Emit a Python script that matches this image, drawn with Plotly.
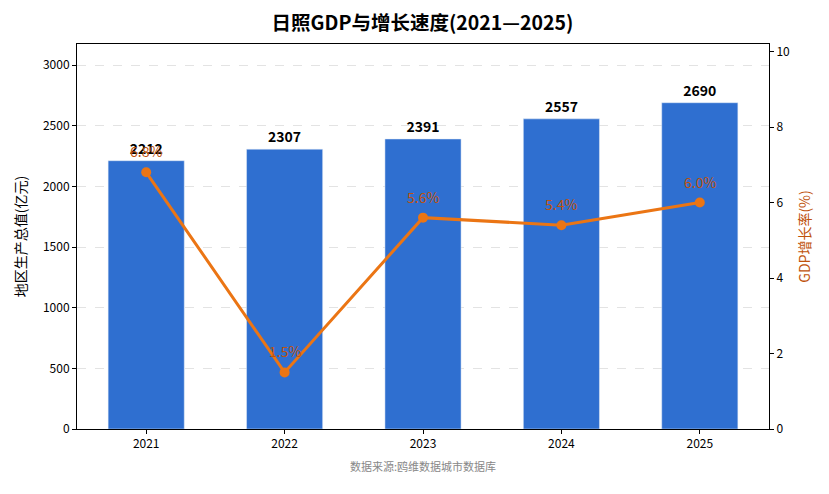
import plotly.graph_objects as go

# data
years = ["2021", "2022", "2023", "2024", "2025"]
gdp = [2212, 2307, 2391, 2557, 2690]
growth = [6.8, 1.5, 5.6, 5.4, 6.0]

BAR_COLOR = "#2f6fd0"
LINE_COLOR = "#eb7514"
LABEL_COLOR = "#bf520c"
FONT = "Noto Sans CJK SC"

fig = go.Figure()

fig.add_trace(go.Bar(
    x=years, y=gdp,
    marker=dict(color=BAR_COLOR),
    width=0.55,
    text=[str(v) for v in gdp],
    textposition="outside",
    textfont=dict(family=FONT, size=14, color="#000000", weight="bold"),
    cliponaxis=False,
    showlegend=False,
))

fig.add_trace(go.Scatter(
    x=years, y=growth,
    yaxis="y2",
    mode="lines+markers",
    line=dict(color=LINE_COLOR, width=3),
    marker=dict(color=LINE_COLOR, size=10),
    showlegend=False,
))

# growth labels above each point (x given as category index)
for i, g in enumerate(growth):
    fig.add_annotation(
        x=i, y=g, xref="x", yref="y2",
        text=f"{g:.1f}%",
        showarrow=False,
        yshift=21,
        font=dict(family=FONT, size=14, color=LABEL_COLOR),
    )

fig.add_annotation(
    x=0.5, y=-0.122, xref="paper", yref="paper",
    text="数据来源:鸥维数据城市数据库",
    showarrow=False,
    font=dict(family=FONT, size=11, color="#888888"),
)

fig.update_layout(
    width=829, height=494,
    margin=dict(l=63, r=68, t=36, b=73),
    paper_bgcolor="#ffffff",
    plot_bgcolor="#ffffff",
    font=dict(family=FONT, size=12, color="#000000"),
    title=dict(
        text="日照GDP与增长速度(2021—2025)",
        x=0.5, xanchor="center", y=0.97, yanchor="middle",
        font=dict(family=FONT, size=19.5, color="#000000", weight="bold"),
    ),
    xaxis=dict(
        type="category",
        range=[-0.5, 4.5],
        showline=True, linecolor="#000000", linewidth=1, mirror=True,
        ticks="outside", ticklen=4, tickcolor="#000000",
        showgrid=False,
        tickfont=dict(size=12),
    ),
    yaxis=dict(
        title=dict(text="地区生产总值(亿元)", font=dict(size=14), standoff=13),
        range=[0, max(gdp) * 1.18],
        dtick=500,
        showline=True, linecolor="#000000", linewidth=1,
        ticks="outside", ticklen=4, tickcolor="#000000",
        showgrid=True, gridcolor="#e3e3e3", griddash="dash", gridwidth=1,
        zeroline=False,
        tickfont=dict(size=12),
    ),
    yaxis2=dict(
        title=dict(text="GDP增长率(%)", font=dict(size=14, color=LABEL_COLOR), standoff=11),
        overlaying="y", side="right",
        range=[0, max(growth) * 1.5],
        dtick=2,
        showline=True, linecolor="#000000", linewidth=1,
        ticks="outside", ticklen=4, tickcolor="#000000",
        showgrid=False, zeroline=False,
        tickfont=dict(size=12),
    ),
)

fig.write_html("out.html")
